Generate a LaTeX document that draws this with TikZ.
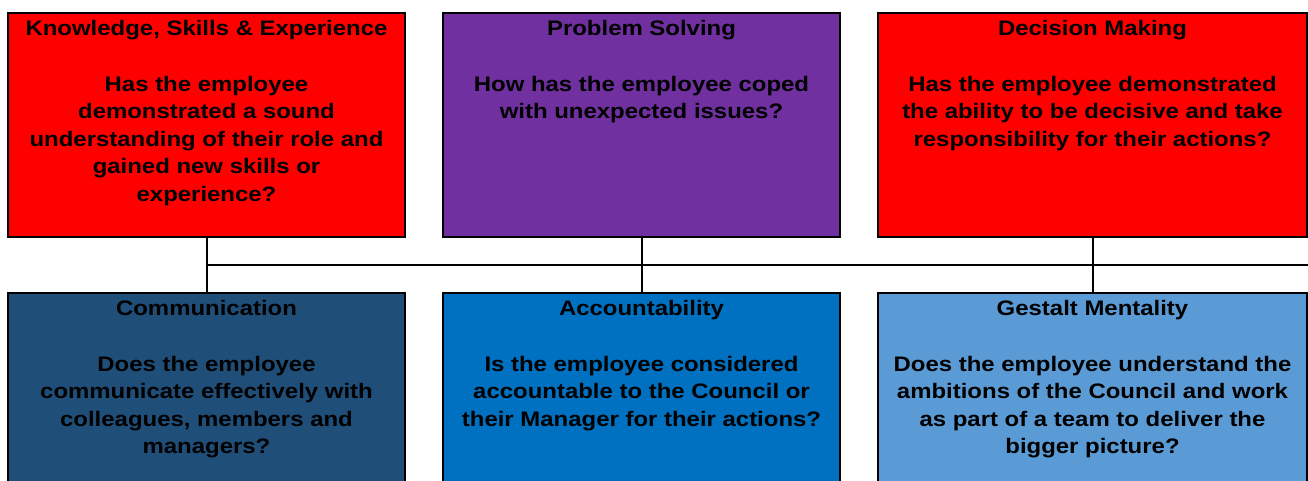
\documentclass[tikz,border=0pt]{standalone}
\usepackage{fontspec}
\setmainfont{Liberation Sans}[FakeStretch=1.14]
\usetikzlibrary{positioning}
\definecolor{ksred}{HTML}{FF0000}
\definecolor{pspurple}{HTML}{7030A0}
\definecolor{codark}{HTML}{1F4E79}
\definecolor{acblue}{HTML}{0070C0}
\definecolor{gmlight}{HTML}{5B9BD5}

\begin{document}
\begin{tikzpicture}[x=1pt,y=-1pt,
  box/.style={draw,line width=2pt,minimum height=224pt,minimum width=397pt,inner sep=0pt},
  txt/.style={anchor=north,align=center,inner sep=0pt,
    font=\bfseries\fontsize{21}{27.6}\selectfont}]
\useasboundingbox (0,0) rectangle (1308,480);

\node[box,fill=ksred,anchor=north west] (ks) at (7,12) {};
\node[box,fill=pspurple,right=36pt of ks] (ps) {};
\node[box,fill=ksred,right=36pt of ps,minimum width=429pt] (dm) {};
\node[box,fill=codark,below=54pt of ks] (co) {};
\node[box,fill=acblue,below=54pt of ps] (ac) {};
\node[box,fill=gmlight,below=54pt of dm,minimum width=429pt] (gm) {};

\node[txt] (kst) at ([yshift=-8.5pt]ks.north) {Knowledge, Skills \& Experience\\[27.6pt]
  Has the employee\\demonstrated a sound\\understanding of their role and\\gained new skills or\\experience?};
\node[txt] (pst) at ([yshift=-8.5pt]ps.north) {Problem Solving\\[27.6pt]
  How has the employee coped\\with unexpected issues?};
\node[txt] (dmt) at ([yshift=-8.5pt]dm.north) {Decision Making\\[27.6pt]
  Has the employee demonstrated\\the ability to be decisive and take\\responsibility for their actions?};
\node[txt] (cot) at ([yshift=-8.5pt]co.north) {Communication\\[27.6pt]
  Does the employee\\communicate effectively with\\colleagues, members and\\managers?};
\node[txt] (act) at ([yshift=-8.5pt]ac.north) {Accountability\\[27.6pt]
  Is the employee considered\\accountable to the Council or\\their Manager for their actions?};
\node[txt] (gmt) at ([yshift=-8.5pt]gm.north) {Gestalt Mentality\\[27.6pt]
  Does the employee understand the\\ambitions of the Council and work\\as part of a team to deliver the\\bigger picture?};

\coordinate (busend) at (1308,265);
\foreach \a/\b in {ks/co,ps/ac,dm/gm}
  \draw[line width=2pt] (\a.south) -- (\b.north);
\draw[line width=2pt] (ks.south |- busend) -- (busend);
\end{tikzpicture}
\end{document}
